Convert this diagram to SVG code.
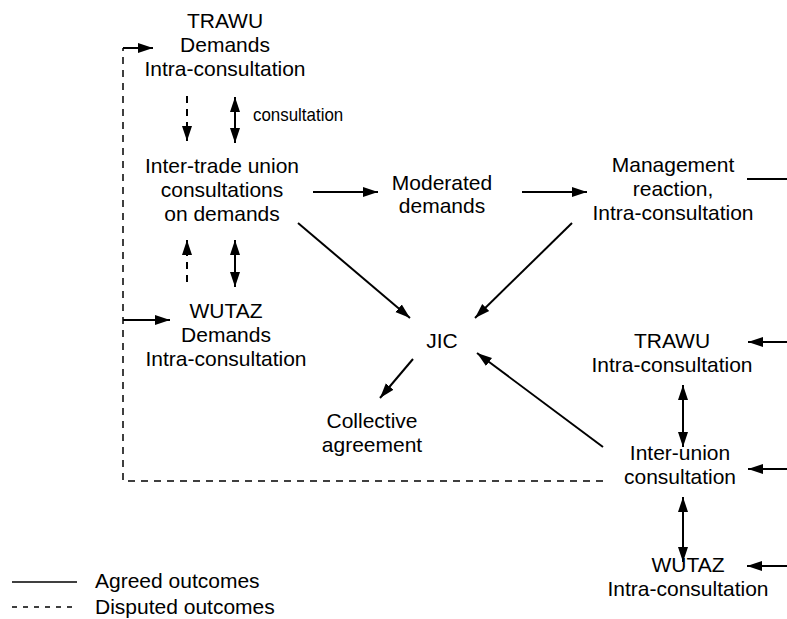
<svg xmlns="http://www.w3.org/2000/svg" width="787" height="619" viewBox="0 0 787 619">
<style>
text{font-family:"Liberation Sans",Arial,sans-serif;font-size:21px;fill:#000;text-anchor:middle}
.s{stroke:#000;stroke-width:2;fill:none}
.d{stroke:#000;stroke-width:2;fill:none;stroke-dasharray:7 6}
.lg{text-anchor:start}
</style>
<defs>
<marker id="ah" markerUnits="userSpaceOnUse" markerWidth="16" markerHeight="12" viewBox="0 0 16 12" refX="15" refY="6" orient="auto-start-reverse">
<path d="M0,1 L15,6 L0,11 Z" fill="#000"/>
</marker>
</defs>
<rect width="787" height="619" fill="#fff"/>
<g id="trawu-demands"><text x="225" y="28">TRAWU</text><text x="225" y="52">Demands</text><text x="225" y="76">Intra-consultation</text></g>
<g id="inter-trade"><text x="222" y="173">Inter-trade union</text><text x="222" y="197">consultations</text><text x="222" y="221">on demands</text></g>
<g id="wutaz-demands"><text x="226" y="318">WUTAZ</text><text x="226" y="342">Demands</text><text x="226" y="366">Intra-consultation</text></g>
<g id="moderated"><text x="442" y="190">Moderated</text><text x="442" y="213">demands</text></g>
<g id="management"><text x="673" y="172">Management</text><text x="673" y="196">reaction,</text><text x="673" y="220">Intra-consultation</text></g>
<g id="jic"><text x="442" y="348">JIC</text></g>
<g id="collective"><text x="372" y="428">Collective</text><text x="372" y="452">agreement</text></g>
<g id="trawu-intra"><text x="672" y="348">TRAWU</text><text x="672" y="372">Intra-consultation</text></g>
<g id="inter-union"><text x="680" y="460">Inter-union</text><text x="680" y="484">consultation</text></g>
<g id="wutaz-intra"><text x="688" y="572">WUTAZ</text><text x="688" y="596">Intra-consultation</text></g>
<g id="connectors">
<line class="d" x1="187" y1="96" x2="187" y2="141" marker-end="url(#ah)"/>
<line class="s" x1="235" y1="97" x2="235" y2="143" marker-start="url(#ah)" marker-end="url(#ah)"/>
<text transform="translate(253,121) scale(0.94,1)" x="0" y="0" style="font-size:18px;text-anchor:start">consultation</text>
<line class="d" x1="187" y1="282" x2="187" y2="240" marker-end="url(#ah)"/>
<line class="s" x1="235" y1="240" x2="235" y2="287" marker-start="url(#ah)" marker-end="url(#ah)"/>
<line class="s" x1="313" y1="192" x2="378" y2="192" marker-end="url(#ah)"/>
<line class="s" x1="522" y1="192" x2="587" y2="192" marker-end="url(#ah)"/>
<line class="s" x1="747" y1="179" x2="787" y2="179"/>
<line class="s" x1="298" y1="223" x2="410" y2="318" marker-end="url(#ah)"/>
<line class="s" x1="572" y1="223" x2="475" y2="318" marker-end="url(#ah)"/>
<line class="s" x1="603" y1="447" x2="477" y2="353" marker-end="url(#ah)"/>
<line class="s" x1="413" y1="359" x2="380" y2="398" marker-end="url(#ah)"/>
<line class="s" x1="787" y1="342" x2="748" y2="342" marker-end="url(#ah)"/>
<line class="s" x1="787" y1="469" x2="748" y2="469" marker-end="url(#ah)"/>
<line class="s" x1="787" y1="566" x2="747" y2="566" marker-end="url(#ah)"/>
<line class="s" x1="683" y1="385" x2="683" y2="447" marker-start="url(#ah)" marker-end="url(#ah)"/>
<line class="s" x1="683" y1="497" x2="683" y2="562" marker-start="url(#ah)" marker-end="url(#ah)"/>
<path class="d" style="stroke-width:1.5" d="M603,481 H123 V48"/>
<line class="s" x1="123" y1="48" x2="153" y2="48" marker-end="url(#ah)"/>
<line class="s" x1="123" y1="320" x2="170" y2="320" marker-end="url(#ah)"/>
</g>
<g id="legend">
<line class="s" style="stroke-width:1.5" x1="12" y1="582" x2="77" y2="582"/>
<line class="s" style="stroke-width:1.5;stroke-dasharray:5 6" x1="12" y1="607" x2="77" y2="607"/>
<text class="lg" x="95" y="588">Agreed outcomes</text>
<text class="lg" x="95" y="614">Disputed outcomes</text>
</g>
</svg>
